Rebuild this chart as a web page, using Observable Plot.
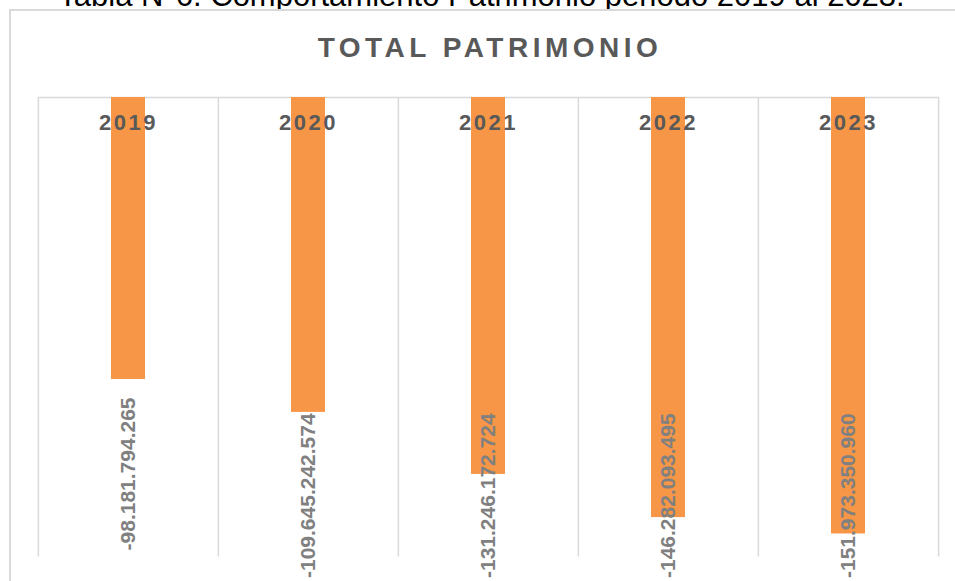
<!DOCTYPE html>
<html>
<head>
<meta charset="utf-8">
<script src="https://cdn.jsdelivr.net/npm/d3@7"></script>
<script src="https://cdn.jsdelivr.net/npm/@observablehq/plot@0.6"></script>
<style>
html, body { margin: 0; padding: 0; background: #fff; overflow: hidden; }
#root { position: relative; width: 955px; height: 581px; overflow: hidden; font-family: "Liberation Sans", Arial, sans-serif; }
#caption { position: absolute; left: 4px; top: -20px; width: 955px; text-align: center; font-size: 31px; line-height: 31px; color: #000; white-space: nowrap; }
#box { position: absolute; left: 9px; top: 9px; width: 1000px; height: 700px; border: 2px solid #d9d9d9; background: #fff; }
#title { position: absolute; left: 0; top: 34px; width: 980px; text-align: center; font-size: 28px; line-height: 28px; font-weight: bold; letter-spacing: 4.5px; color: #595959; white-space: nowrap; }
#chart { position: absolute; left: 0; top: 60px; width: 955px; }
</style>
</head>
<body>
<div id="root">
  <div id="caption">Tabla N°6. Comportamiento Patrimonio periodo 2019 al 2023.</div>
  <div id="box"></div>
  <div id="title">TOTAL PATRIMONIO</div>
  <div id="chart"></div>
</div>
<script>
const years = ["2019", "2020", "2021", "2022", "2023"];
const values = [-98181794265, -109645242574, -131246172724, -146282093495, -151973350960];
const yDomain = [-160000000000, 0];

const fmt = d3.formatLocale({decimal: ",", thousands: ".", grouping: [3], currency: ["$", ""], minus: "-"}).format(",d");
const data = years.map((year, i) => ({year, value: values[i], label: fmt(values[i])}));

const W = 955, H = 521, mL = 38, mR = 16, mT = 37, mB = 24.5;
const step = (W - mL - mR) / years.length;
const gridColor = "#d9d9d9";

const plot = Plot.plot({
  width: W,
  height: H,
  marginLeft: mL,
  marginRight: mR,
  marginTop: mT,
  marginBottom: mB,
  style: {background: "transparent", fontFamily: "Liberation Sans, Arial, sans-serif", overflow: "visible"},
  x: {type: "band", domain: years, paddingInner: 0.81, paddingOuter: 0.405, axis: null},
  y: {domain: yDomain, axis: null},
  marks: [
    Plot.ruleX(years, {x: d => d, dx: -step / 2, stroke: gridColor, strokeWidth: 1.5}),
    Plot.ruleX([years[years.length - 1]], {x: d => d, dx: step / 2, stroke: gridColor, strokeWidth: 1.5}),
    Plot.ruleY([0], {stroke: gridColor, strokeWidth: 1.5}),
    Plot.barY(data, {x: "year", y: "value", fill: "#f79646"}),
    Plot.text(data, {x: "year", y: "value", text: "label", rotate: -90, textAnchor: "end", lineAnchor: "middle", dy: 18, fontSize: 21, fontWeight: "bold", fill: "#808080"}),
    Plot.text(data, {x: "year", y: () => 0, text: "year", lineAnchor: "middle", dy: 25, fontSize: 22, fontWeight: "bold", fill: "#595959"})
  ]
});

document.getElementById("chart").append(plot);

const groups = plot.querySelectorAll('g[aria-label="text"]');
if (groups[1]) groups[1].style.letterSpacing = "2.5px";
if (groups[0]) {
  const limit = H - 3;
  const svgTop = plot.getBoundingClientRect().top;
  groups[0].querySelectorAll("text").forEach(t => {
    const r = t.getBoundingClientRect();
    const bottom = r.bottom - svgTop;
    if (bottom > limit) {
      const shift = bottom - limit;
      t.setAttribute("transform", `translate(0,${-shift}) ` + (t.getAttribute("transform") || ""));
    }
  });
}
</script>
</body>
</html>
